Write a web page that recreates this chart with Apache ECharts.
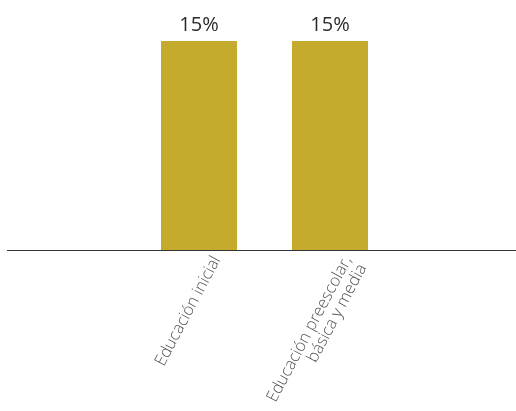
<!DOCTYPE html>
<html>
<head>
<meta charset="utf-8">
<script src="https://cdn.jsdelivr.net/npm/echarts@6/dist/echarts.min.js"></script>
<style>
html,body{margin:0;padding:0;background:#fff;}
#chart{width:516px;height:411px;}
</style>
</head>
<body>
<div id="chart"></div>
<script>
const categories = ['Educación inicial', 'Educación preescolar,\nbásica y media'];
const values = [15, 15];
const valueLabels = ['15%', '15%'];

const chart = echarts.init(document.getElementById('chart'), null, {renderer: 'canvas'});
chart.setOption({
  animation: false,
  grid: [
    {left: 133.5, right: 120.5, top: 41, bottom: 161, containLabel: false, outerBoundsMode: 'none'},
    {left: 7.5, right: 0, top: 41, bottom: 161, containLabel: false, outerBoundsMode: 'none'}
  ],
  xAxis: [
    {
      type: 'category', gridIndex: 0, data: categories,
      axisLine: {show: false}, axisTick: {show: false},
      axisLabel: {
        interval: 0, rotate: 62, margin: -2,
        verticalAlign: 'top', padding: [11.5, 0, 0, 0],
        fontFamily: 'Open Sans', fontWeight: 300, fontSize: 16.5, lineHeight: 17,
        color: '#555'
      }
    },
    {
      type: 'category', gridIndex: 1, data: [''], z: 10,
      axisLine: {show: true, lineStyle: {color: '#333', width: 1}},
      axisTick: {show: false}, axisLabel: {show: false}
    }
  ],
  yAxis: [
    {type: 'value', gridIndex: 0, min: 0, max: 15, show: false},
    {type: 'value', gridIndex: 1, min: 0, max: 15, show: false}
  ],
  series: [{
    type: 'bar', xAxisIndex: 0, yAxisIndex: 0,
    data: values, barWidth: 76,
    itemStyle: {color: '#C6AA2E', borderWidth: 0},
    label: {
      show: true, position: 'top', distance: 6,
      formatter: p => valueLabels[p.dataIndex],
      fontFamily: 'Open Sans', fontSize: 20, color: '#2b2b2b'
    }
  }]
});
</script>
</body>
</html>
